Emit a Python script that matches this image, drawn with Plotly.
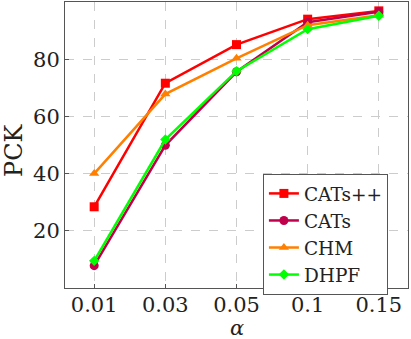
import plotly.graph_objects as go

alphas = ["0.01", "0.03", "0.05", "0.1", "0.15"]
cats_pp = [28.4, 71.6, 85.1, 94.0, 96.9]
cats = [7.8, 49.9, 75.6, 92.9, 96.6]
chm = [40.0, 67.8, 80.3, 91.9, 95.4]
dhpf = [9.5, 51.9, 75.8, 90.5, 95.2]

series = [
    ("CATs++", cats_pp, "#ff0000", "square", 9),
    ("CATs", cats, "#c0004a", "circle", 9),
    ("CHM", chm, "#ff8000", "triangle-up", 9),
    ("DHPF", dhpf, "#00ff00", "diamond", 8),
]

fig = go.Figure()
for name, vals, color, sym, sz in series:
    fig.add_trace(go.Scatter(
        x=alphas, y=vals, name=name, mode="lines+markers",
        line=dict(color=color, width=2.5),
        marker=dict(symbol=sym, size=sz, color=color),
    ))

font = "DejaVu Serif, Liberation Serif, serif"
fig.update_layout(
    width=411, height=339,
    margin=dict(l=65, r=3, t=2, b=51),
    plot_bgcolor="white", paper_bgcolor="white",
    font=dict(family=font, size=21, color="#222"),
    showlegend=True,
    legend=dict(
        x=0.577, y=0.399, xanchor="left", yanchor="top",
        bgcolor="white", bordercolor="#555", borderwidth=1,
        font=dict(size=18.5, family=font), tracegroupgap=0,
        itemwidth=30,
    ),
    xaxis=dict(
        type="category", range=[-0.41, 4.41], automargin=False,
        showgrid=True, gridcolor="#cccccc", griddash="dash", gridwidth=1,
        showline=True, linecolor="#555", mirror=True, linewidth=1,
        ticks="inside", ticklen=4, tickcolor="#555",
        tickfont=dict(size=21), ticklabelstandoff=-2,
    ),
    yaxis=dict(
        range=[0, 100], tickvals=[20, 40, 60, 80], automargin=False,
        showgrid=True, gridcolor="#cccccc", griddash="dash", gridwidth=1,
        showline=True, linecolor="#555", mirror=True, linewidth=1,
        ticks="inside", ticklen=4, tickcolor="#555", zeroline=False,
        tickfont=dict(size=21),
    ),
    annotations=[
        dict(text="PCK", xref="paper", yref="paper", x=0, y=0.4825,
             xshift=-51, xanchor="center", yanchor="middle", textangle=-90,
             showarrow=False, font=dict(size=24, family=font)),
        dict(text="<i>α</i>", xref="paper", yref="paper", x=0.5, y=0,
             yshift=-40, xanchor="center", yanchor="middle",
             showarrow=False, font=dict(size=21, family=font)),
    ],
)

fig.write_html(
    "out.html",
    config={"displayModeBar": False},
    post_script="document.body.style.margin='0';document.body.style.overflow='hidden';",
)
